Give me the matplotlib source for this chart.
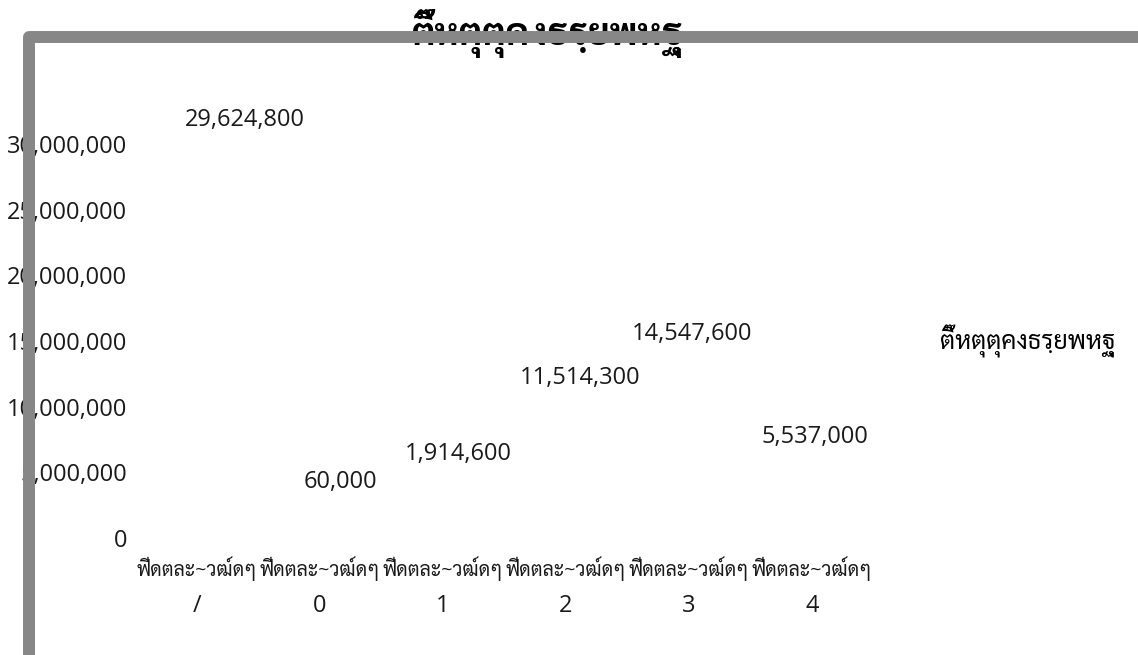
import matplotlib
matplotlib.use("Agg")
import matplotlib.pyplot as plt
import matplotlib.transforms as mtransforms
from matplotlib.lines import Line2D
from matplotlib.patches import Patch

# data
series_name = "ตึ๊หตุตุคงธรฺยพหฐุ"
category_head = "ฟีดตละ~วฒ์ดๆ"
category_nums = ["/", "0", "1", "2", "3", "4"]
values = [29624800, 60000, 1914600, 11514300, 14547600, 5537000]
y_ticks = [0, 5000000, 10000000, 15000000, 20000000, 25000000, 30000000]

# where excel dropped each data label, in pixels from the bar top
label_dx = [48, 20, 15, 14, 3, 3]
label_dy = [29, 55, 59, 9, 13, 28]

plt.rcParams["font.family"] = ["Open Sans", "Sarabun", "DejaVu Sans"]

W, H = 1138, 655
fig = plt.figure(figsize=(W / 100, H / 100), dpi=100)
ax = fig.add_axes([135.5 / W, 1 - 538 / H, 738 / W, 459.7 / H])

x = list(range(len(values)))
ax.bar(x, values, width=0.6, color="white", label=series_name)

for i, v in enumerate(values):
    ax.annotate("{:,}".format(v), (x[i], v),
                xytext=(label_dx[i] * 0.72, label_dy[i] * 0.72),
                textcoords="offset points", ha="center", va="center",
                fontsize=17, color="#1a1a1a")

ax.set_xlim(-0.5, len(values) - 0.5)
ax.set_ylim(0, 35000000)
ax.set_yticks(y_ticks)
ax.set_yticklabels(["{:,}".format(t) for t in y_ticks], fontsize=17, color="#1a1a1a")
ax.set_xticks(x)
ax.set_xticklabels([category_head] * len(x), fontsize=14, color="#1a1a1a")
ax.tick_params(length=0, pad=6)
ax.tick_params(axis="x", pad=13)
for s in ax.spines.values():
    s.set_visible(False)

# second line of each category label
trans = mtransforms.blended_transform_factory(ax.transData, fig.transFigure)
for i, n in enumerate(category_nums):
    ax.text(x[i], 1 - 606 / H, n, transform=trans, ha="center", va="center",
            fontsize=17, color="#1a1a1a")

leg = fig.legend(handles=[Patch(facecolor="white", edgecolor="none", label=series_name)],
                 loc="center left", bbox_to_anchor=(940 / W, 1 - 341 / H),
                 frameon=False, fontsize=18, handlelength=0, handletextpad=0,
                 borderpad=0, borderaxespad=0)

fig.text(548 / W, 1 - 33 / H, series_name, ha="center", va="center",
         fontsize=27, fontweight="bold", color="black")

# grey chart-area border, drawn over the title and tick labels
border = Line2D([1.05, 29 / W, 29 / W], [1 - 36.5 / H, 1 - 36.5 / H, -0.05],
                transform=fig.transFigure, color="#878787", linewidth=8.6,
                solid_joinstyle="round", solid_capstyle="butt", zorder=10)
fig.add_artist(border)

fig.savefig("out.png", dpi=100)
